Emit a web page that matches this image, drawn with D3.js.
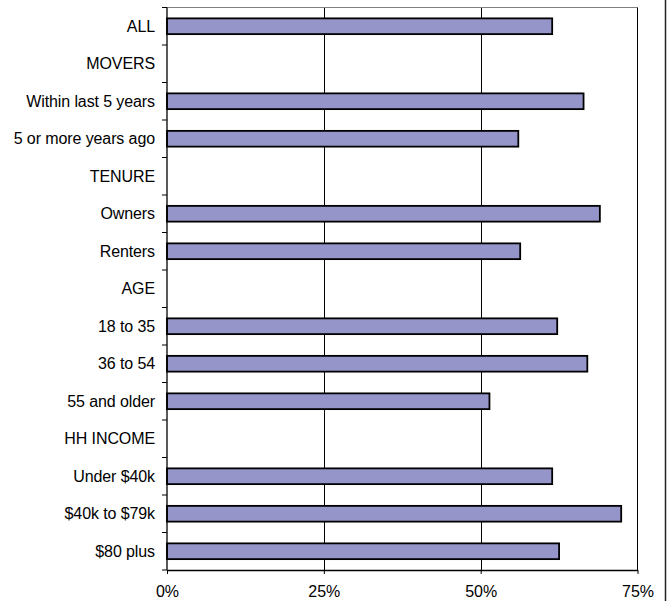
<!DOCTYPE html>
<html>
<head>
<meta charset="utf-8">
<script src="https://cdn.jsdelivr.net/npm/d3@7"></script>
<style>
  html, body { margin: 0; padding: 0; background: #fff; }
  svg { display: block; font-family: Arial, "Liberation Sans", sans-serif; }
</style>
</head>
<body>
<svg id="chart" width="670" height="601"></svg>
<script>
const categories = [
  "ALL", "MOVERS", "Within last 5 years", "5 or more years ago",
  "TENURE", "Owners", "Renters", "AGE", "18 to 35", "36 to 54",
  "55 and older", "HH INCOME", "Under $40k", "$40k to $79k", "$80 plus"
];
// null = section heading, no bar
const values = [
  61.4, null, 66.4, 56.0,
  null, 69.0, 56.3, null, 62.2, 67.0,
  51.4, null, 61.4, 72.4, 62.5
];
const xTicks = [0, 25, 50, 75];

const W = 670, H = 601;
const margin = { top: 7.5, right: 32.5, bottom: 31, left: 167 };
const iw = W - margin.left - margin.right;
const ih = H - margin.top - margin.bottom;

const svg = d3.select("#chart");
const g = svg.append("g").attr("transform", `translate(${margin.left},${margin.top})`);

const x = d3.scaleLinear().domain([0, 75]).range([0, iw]);
const y = d3.scaleBand().domain(categories).range([0, ih])
  .paddingInner(0.58).paddingOuter(0.29);

// gridlines
g.selectAll("line.grid")
  .data([25, 50])
  .enter().append("line")
  .attr("class", "grid")
  .attr("x1", d => Math.round(x(d)) + 0.5)
  .attr("x2", d => Math.round(x(d)) + 0.5)
  .attr("y1", 0).attr("y2", ih)
  .attr("stroke", "#000").attr("stroke-width", 1);

// plot border top/right
g.append("line").attr("x1", 0).attr("x2", iw).attr("y1", 0).attr("y2", 0)
  .attr("stroke", "#808080").attr("stroke-width", 1);
g.append("line").attr("x1", iw).attr("x2", iw).attr("y1", 0).attr("y2", ih)
  .attr("stroke", "#000").attr("stroke-width", 1);

// bars
const data = categories.map((c, i) => ({ c, v: values[i] })).filter(d => d.v != null);
g.selectAll("rect.bar")
  .data(data)
  .enter().append("rect")
  .attr("class", "bar")
  .attr("x", 0)
  .attr("y", d => y(d.c))
  .attr("width", d => x(d.v))
  .attr("height", y.bandwidth())
  .attr("fill", "#9595c9")
  .attr("stroke", "#000")
  .attr("stroke-width", 1.8);

// x axis
const xAxis = d3.axisBottom(x).tickValues(xTicks).tickFormat(d => d + "%")
  .tickSizeInner(4).tickSizeOuter(0).tickPadding(12);
const gx = g.append("g").attr("transform", `translate(0,${ih})`).call(xAxis);
gx.select(".domain").attr("stroke", "#000").attr("stroke-width", 1.3);
gx.selectAll(".tick line").attr("stroke", "#000");
gx.selectAll("text").attr("font-size", 16).attr("fill", "#000")
  .attr("font-family", "Arial, 'Liberation Sans', sans-serif");

// y axis: line + ticks at band boundaries
g.append("line").attr("x1", 0).attr("x2", 0).attr("y1", 0).attr("y2", ih)
  .attr("stroke", "#000").attr("stroke-width", 1.3);
const step = y.step();
const bounds = d3.range(categories.length + 1).map(i => i * step);
g.selectAll("line.ytick")
  .data(bounds)
  .enter().append("line")
  .attr("class", "ytick")
  .attr("x1", -5).attr("x2", 0)
  .attr("y1", d => d).attr("y2", d => d)
  .attr("stroke", "#000").attr("stroke-width", 1);

g.selectAll("text.ylab")
  .data(categories)
  .enter().append("text")
  .attr("class", "ylab")
  .attr("x", -12)
  .attr("y", d => y(d) + y.bandwidth() / 2)
  .attr("dy", "0.35em")
  .attr("text-anchor", "end")
  .attr("font-size", 16)
  .attr("letter-spacing", "-0.1")
  .attr("fill", "#000")
  .text(d => d);

// outer chart frame edge on the right
svg.append("line").attr("x1", 665.5).attr("x2", 665.5).attr("y1", 0).attr("y2", H)
  .attr("stroke", "#222").attr("stroke-width", 1.5);
</script>
</body>
</html>
